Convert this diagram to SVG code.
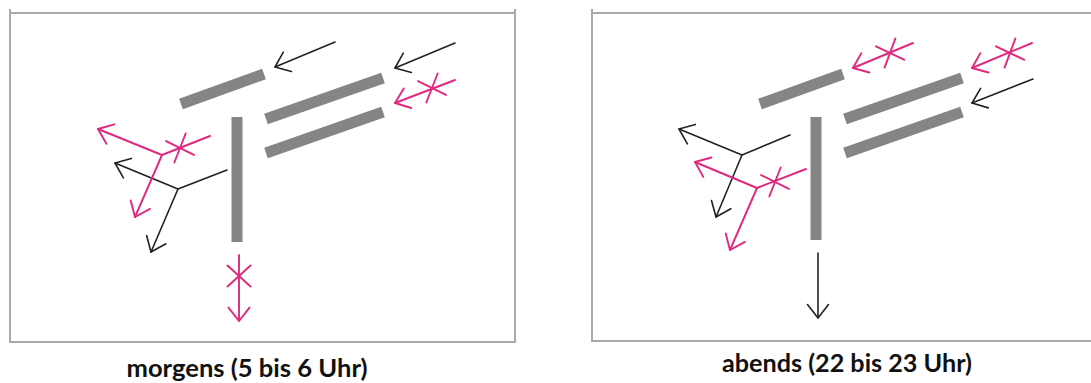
<svg xmlns="http://www.w3.org/2000/svg" width="1091" height="383" viewBox="0 0 1091 383">
<style>
.frame{fill:none;stroke:#a9a9a9;stroke-width:2}
.bar{stroke:#858585;stroke-width:11;stroke-linecap:butt}
.k{fill:none;stroke:#222;stroke-width:1.6;stroke-linecap:round}
.p{fill:none;stroke:#e0287f;stroke-width:1.9;stroke-linecap:round}
.ka{marker-end:url(#hk)}
.pa{marker-end:url(#hp)}
.cap{font-family:Lato,"Open Sans",sans-serif;font-weight:700;font-size:24px;fill:#111;text-anchor:middle}
</style>
<defs>
<marker id="hk" markerUnits="userSpaceOnUse" viewBox="-20 -15 25 30" markerWidth="25" markerHeight="30" refX="0" refY="0" orient="auto" overflow="visible">
<path d="M-13.4,-10.5 L0,0 L-13.4,10.5" fill="none" stroke="#222" stroke-width="1.6" stroke-linecap="round" stroke-linejoin="round"/>
</marker>
<marker id="hp" markerUnits="userSpaceOnUse" viewBox="-20 -15 25 30" markerWidth="25" markerHeight="30" refX="0" refY="0" orient="auto" overflow="visible">
<path d="M-13.4,-10.5 L0,0 L-13.4,10.5" fill="none" stroke="#e0287f" stroke-width="1.9" stroke-linecap="round" stroke-linejoin="round"/>
</marker>
<g id="ast">
<line x1="-10.5" y1="-11.5" x2="10.5" y2="11.5"/>
<line x1="-10.5" y1="11.5" x2="10.5" y2="-11.5"/>
</g>
</defs>
<rect width="1091" height="383" fill="#fff"/>

<g id="panel-morgens">
<g id="frame-left">
<rect class="frame" x="10" y="13" width="505" height="329"/>
<line class="frame" x1="10" y1="9" x2="10" y2="13"/>
<line class="frame" x1="515" y1="9" x2="515" y2="13"/>
</g>
<g id="bars-left">
<line class="bar" x1="181" y1="104" x2="264" y2="74"/>
<line class="bar" x1="266" y1="119" x2="383" y2="78"/>
<line class="bar" x1="266" y1="153" x2="383" y2="112"/>
<line class="bar" x1="237" y1="117" x2="237" y2="242"/>
</g>
<g id="connectors-left">
<line class="k ka" x1="335" y1="42" x2="275" y2="67"/>
<line class="k ka" x1="455" y1="43" x2="395" y2="68"/>
<line class="p pa" x1="455" y1="80" x2="395" y2="103"/>
<use href="#ast" class="p" transform="translate(432,88) rotate(-21)"/>
<line class="k" x1="178" y1="189" x2="227" y2="170"/>
<line class="k ka" x1="178" y1="189" x2="115" y2="163"/>
<line class="k ka" x1="178" y1="189" x2="151" y2="252"/>
<line class="p" x1="162" y1="155" x2="210" y2="136"/>
<line class="p pa" x1="162" y1="155" x2="98" y2="129"/>
<line class="p pa" x1="162" y1="155" x2="135" y2="217"/>
<use href="#ast" class="p" transform="translate(180,148) rotate(-21)"/>
<line class="p pa" x1="239" y1="255" x2="239" y2="321"/>
<use href="#ast" class="p" transform="translate(239,276) rotate(90)"/>
</g>
<text class="cap" x="247" y="377" textLength="241" lengthAdjust="spacingAndGlyphs">morgens (5 bis 6 Uhr)</text>
</g>

<g id="panel-abends">
<g id="frame-right">
<polyline class="frame" points="1095,13 592,13 592,341 1095,341"/>
<line class="frame" x1="592" y1="9" x2="592" y2="13"/>
</g>
<g id="bars-right">
<line class="bar" x1="760" y1="104" x2="843" y2="74"/>
<line class="bar" x1="845" y1="119" x2="962" y2="78"/>
<line class="bar" x1="845" y1="153" x2="962" y2="112"/>
<line class="bar" x1="816" y1="117" x2="816" y2="240"/>
</g>
<g id="connectors-right">
<line class="p pa" x1="913" y1="43" x2="853" y2="68"/>
<use href="#ast" class="p" transform="translate(890,53) rotate(-22)"/>
<line class="p pa" x1="1032" y1="43" x2="972" y2="68"/>
<use href="#ast" class="p" transform="translate(1010,53) rotate(-22)"/>
<line class="k ka" x1="1033" y1="79" x2="972" y2="103"/>
<line class="k" x1="742" y1="155" x2="790" y2="135"/>
<line class="k ka" x1="742" y1="155" x2="679" y2="129"/>
<line class="k ka" x1="742" y1="155" x2="716" y2="217"/>
<line class="p" x1="757" y1="188" x2="806" y2="169"/>
<line class="p pa" x1="757" y1="188" x2="695" y2="162"/>
<line class="p pa" x1="757" y1="188" x2="730" y2="250"/>
<use href="#ast" class="p" transform="translate(775,182) rotate(-21)"/>
<line class="k ka" x1="818" y1="253" x2="818" y2="318"/>
</g>
<text class="cap" x="847" y="372" textLength="250" lengthAdjust="spacingAndGlyphs">abends (22 bis 23 Uhr)</text>
</g>
</svg>
